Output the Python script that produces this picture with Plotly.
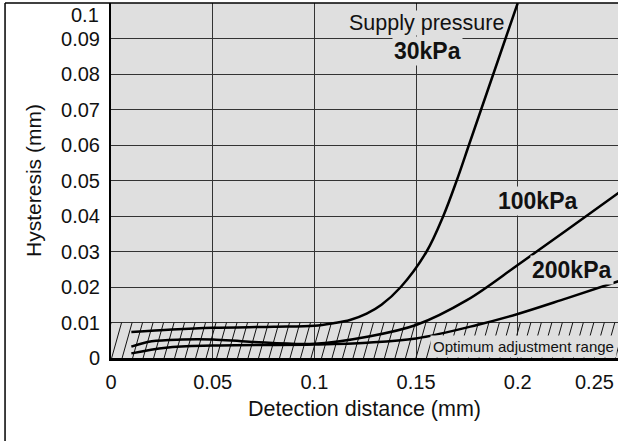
import numpy as np
import plotly.graph_objects as go

# Data
x_30 = [0.01, 0.03, 0.05, 0.08, 0.10, 0.1093, 0.1175, 0.1257, 0.133, 0.1425, 0.1552, 0.1634, 0.17, 0.176, 0.182, 0.188, 0.194, 0.2]
y_30 = [0.0073, 0.0080, 0.0085, 0.0088, 0.0091, 0.0098, 0.0107, 0.0125, 0.0150, 0.0200, 0.0300, 0.0400, 0.0500, 0.0600, 0.0700, 0.0800, 0.0900, 0.1]

x_100 = [0.01, 0.02, 0.035, 0.05, 0.068, 0.1, 0.126, 0.15, 0.175, 0.2, 0.224, 0.25]
y_100 = [0.0032, 0.0047, 0.0052, 0.0052, 0.0046, 0.0040, 0.0060, 0.0093, 0.0163, 0.0262, 0.0360, 0.0467]

x_200 = [0.01, 0.027, 0.05, 0.1, 0.126, 0.15, 0.18, 0.2, 0.224, 0.25]
y_200 = [0.0013, 0.0029, 0.0035, 0.0038, 0.0043, 0.0055, 0.0093, 0.0124, 0.0168, 0.0217]

x_ticks = [0, 0.05, 0.1, 0.15, 0.2]
x_tick_text = ["0", "0.05", "0.1", "0.15", "0.2"]
y_ticks = [0, 0.01, 0.02, 0.03, 0.04, 0.05, 0.06, 0.07, 0.08, 0.09]
y_tick_text = ["0", "0.01", "0.02", "0.03", "0.04", "0.05", "0.06", "0.07", "0.08", "0.09"]

optimum_top = 0.01
x_max = 0.2493
y_max = 0.1

BG = "#dfdfdf"
FONT = "Liberation Sans, Arial, sans-serif"

fig = go.Figure()

# hatching for the optimum adjustment range (generated from the band limits)
hatch_step = 0.00516
hatch_dx = 0.0049
hx, hy = [], []
for s in np.arange(-0.01, 0.27, hatch_step):
    hx += [s, s + hatch_dx, None]
    hy += [0, optimum_top, None]
fig.add_trace(go.Scatter(x=hx, y=hy, mode="lines", line=dict(color="#111", width=1),
                         hoverinfo="skip", showlegend=False))

for xs, ys in [(x_30, y_30), (x_100, y_100), (x_200, y_200)]:
    fig.add_trace(go.Scatter(x=xs, y=ys, mode="lines",
                             line=dict(color="black", width=2.5, shape="spline", smoothing=1.0),
                             showlegend=False))

ann = []
ann.append(dict(x=0.1549, y=0.0943, text="Supply pressure", showarrow=False,
                font=dict(size=21.5, family=FONT, color="#111"), bgcolor=BG, borderpad=0))
ann.append(dict(x=0.1554, y=0.0864, text="<b>30kPa</b>", showarrow=False,
                font=dict(size=23, family=FONT, color="#111"), bgcolor=BG, borderpad=1))
ann.append(dict(x=0.2099, y=0.0442, text="<b>100kPa</b>", showarrow=False,
                font=dict(size=23, family=FONT, color="#111"), bgcolor=BG, borderpad=1))
ann.append(dict(x=0.2266, y=0.0248, text="<b>200kPa</b>", showarrow=False,
                font=dict(size=23, family=FONT, color="#111"), bgcolor=BG, borderpad=1))
ann.append(dict(x=0.2030, y=0.0033, text="Optimum adjustment range", showarrow=False,
                font=dict(size=15, family=FONT, color="#111"),
                bgcolor=BG, borderpad=2))
# shifted edge tick labels
ann.append(dict(xref="paper", x=-0.02, y=0.0965, text="0.1", showarrow=False, xanchor="right",
                font=dict(size=20, family=FONT, color="#111")))
ann.append(dict(x=0.2375, yref="paper", y=-0.03, text="0.25", showarrow=False, yanchor="top",
                font=dict(size=20, family=FONT, color="#111")))

fig.update_layout(
    width=618, height=441,
    margin=dict(l=111, r=0, t=3, b=83),
    paper_bgcolor="white", plot_bgcolor=BG,
    font=dict(family=FONT, size=20, color="#111"),
    annotations=ann,
    shapes=[
        dict(type="line", xref="paper", yref="paper", x0=-0.209, x1=1.02, y0=1, y1=1,
             line=dict(color="black", width=1.5)),
        dict(type="line", xref="paper", yref="paper", x0=-0.209, x1=-0.209, y0=1, y1=-0.3,
             line=dict(color="black", width=1.5)),
    ],
)
fig.update_xaxes(range=[0, x_max], tickvals=x_ticks, ticktext=x_tick_text,
                 showgrid=True, gridcolor="#333", gridwidth=1,
                 showline=True, linecolor="black", linewidth=2.5,
                 ticks="outside", ticklen=4, tickcolor="rgba(0,0,0,0)",
                 zeroline=False,
                 title=dict(text="Detection distance (mm)", standoff=10, font=dict(size=21.5)))
fig.update_yaxes(range=[0, y_max], tickvals=y_ticks, ticktext=y_tick_text,
                 showgrid=True, gridcolor="#333", gridwidth=1,
                 showline=True, linecolor="black", linewidth=2,
                 ticks="outside", ticklen=5, tickcolor="rgba(0,0,0,0)",
                 zeroline=False,
                 title=dict(text="Hysteresis (mm)", standoff=14, font=dict(size=21)))

fig.write_html("out.html")
